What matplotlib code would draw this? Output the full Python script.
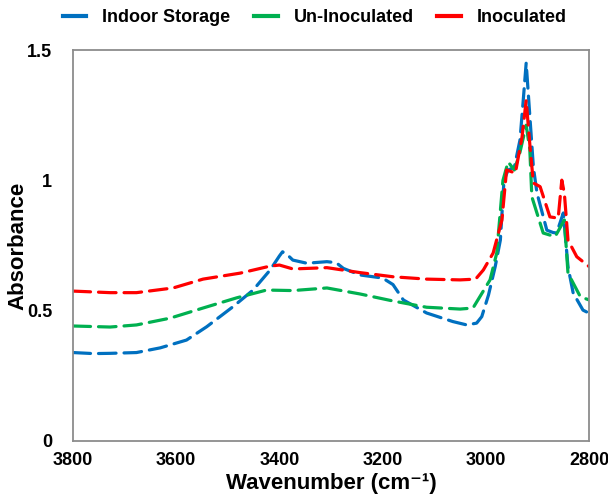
import matplotlib
matplotlib.use("Agg")
import matplotlib.pyplot as plt
from matplotlib.lines import Line2D

plt.rcParams["font.family"] = ["Liberation Sans", "DejaVu Sans"]
plt.rcParams["font.weight"] = "bold"

# FTIR absorbance traces (wavenumber in cm-1, decreasing)
indoor_wn = [3800, 3760, 3728, 3677, 3631, 3580, 3541, 3490, 3451, 3418, 3400, 3394,
             3385, 3374, 3347, 3308, 3290, 3276, 3244, 3200, 3180, 3160, 3115, 3064,
             3037, 3018, 3008, 2995, 2982, 2972, 2965, 2957, 2945, 2934, 2928, 2922,
             2915, 2908, 2901, 2882, 2870, 2863, 2850, 2841, 2831, 2812, 2805]
indoor_abs = [0.339, 0.335, 0.336, 0.339, 0.357, 0.387, 0.438, 0.515, 0.579, 0.656, 0.710, 0.726,
              0.715, 0.694, 0.682, 0.688, 0.684, 0.662, 0.637, 0.625, 0.600, 0.541, 0.491, 0.458,
              0.445, 0.452, 0.477, 0.560, 0.669, 0.771, 1.000, 1.040, 1.050, 1.155, 1.300, 1.451,
              1.250, 1.050, 0.951, 0.809, 0.800, 0.798, 0.875, 0.669, 0.568, 0.502, 0.495]

uninoc_wn = [3800, 3728, 3677, 3612, 3548, 3483, 3425, 3374, 3308, 3244, 3180, 3115,
             3050, 3025, 2992, 2979, 2967, 2957, 2945, 2935, 2922, 2915, 2911, 2889,
             2866, 2848, 2841, 2817, 2800]
uninoc_abs = [0.441, 0.437, 0.445, 0.471, 0.510, 0.549, 0.579, 0.577, 0.587, 0.564, 0.537, 0.513,
              0.506, 0.510, 0.618, 0.721, 1.000, 1.071, 1.040, 1.100, 1.212, 1.120, 0.937, 0.798,
              0.784, 0.848, 0.644, 0.553, 0.541]

inoc_wn = [3800, 3728, 3677, 3606, 3548, 3476, 3418, 3400, 3374, 3308, 3244, 3180,
           3115, 3050, 3020, 3005, 2986, 2969, 2960, 2950, 2943, 2930, 2922, 2914,
           2908, 2895, 2876, 2860, 2853, 2848, 2841, 2824, 2800]
inoc_abs = [0.575, 0.569, 0.569, 0.587, 0.621, 0.644, 0.671, 0.675, 0.660, 0.665, 0.646, 0.630,
            0.621, 0.618, 0.621, 0.656, 0.721, 0.848, 1.040, 1.033, 1.028, 1.167, 1.308, 1.116,
            0.990, 0.976, 0.860, 0.855, 1.001, 0.950, 0.771, 0.707, 0.669]

labels = ["Indoor Storage", "Un-Inoculated", "Inoculated"]
colors = ["#0070C0", "#00B050", "#FF0000"]
series = [(indoor_wn, indoor_abs), (uninoc_wn, uninoc_abs), (inoc_wn, inoc_abs)]

fig = plt.figure(figsize=(6.08, 4.97), dpi=100)
ax = fig.add_axes([0.120, 0.113, 0.849, 0.786])

for (wn, a), c in zip(series, colors):
    ax.plot(wn, a, color=c, lw=2.3, dashes=(5.5, 2.5), dash_capstyle="round")

ax.set_xlim(3800, 2800)
ax.set_ylim(0, 1.5)
ax.set_xticks([3800, 3600, 3400, 3200, 3000, 2800])
ax.set_yticks([0, 0.5, 1.0, 1.5])
ax.set_yticklabels(["0", "0.5", "1", "1.5"])
ax.tick_params(length=0, labelsize=13, pad=8)
ax.tick_params(axis="y", pad=15)
for lab in ax.get_xticklabels() + ax.get_yticklabels():
    lab.set_fontweight("bold")
for sp in ax.spines.values():
    sp.set_color("#8c8c8c")
    sp.set_linewidth(1.3)

ax.set_xlabel("Wavenumber (cm\u207b\u00b9)", fontsize=16, fontweight="bold")
ax.set_ylabel("Absorbance", fontsize=16, fontweight="bold")
ax.xaxis.set_label_coords(0.5, -0.082)
ax.yaxis.set_label_coords(-0.087, 0.5)

handles = [Line2D([], [], color=c, lw=3) for c in colors]
fig.legend(handles, labels, loc="center", bbox_to_anchor=(0.518, 0.964), ncol=3,
           frameon=False, handlelength=1.3, handletextpad=0.9,
           columnspacing=1.3, prop={"weight": "bold", "size": 13})

fig.savefig("out.png", dpi=100)
